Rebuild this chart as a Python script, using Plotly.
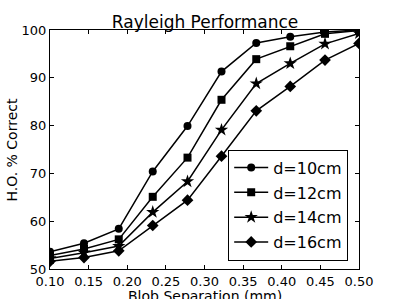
import plotly.graph_objects as go

x_sep = [0.100, 0.144, 0.189, 0.233, 0.278, 0.322, 0.367, 0.411, 0.456, 0.500]
d10 = [53.6, 55.4, 58.4, 70.4, 79.9, 91.3, 97.3, 98.6, 99.6, 100.0]
d12 = [52.8, 54.2, 56.2, 65.1, 73.3, 85.4, 93.9, 96.6, 99.2, 99.9]
d14 = [52.2, 53.4, 54.8, 61.9, 68.3, 79.1, 88.8, 93.0, 97.1, 99.3]
d16 = [51.6, 52.4, 53.8, 59.1, 64.4, 73.6, 83.1, 88.2, 93.7, 97.2]
labels = ["d=10cm", "d=12cm", "d=14cm", "d=16cm"]
series = [d10, d12, d14, d16]
symbols = ["circle", "square", "star", "diamond"]
sizes = [8, 8, 10, 9]
x_ticks = [0.10, 0.15, 0.20, 0.25, 0.30, 0.35, 0.40, 0.45, 0.50]
x_tick_text = ["0.10", "0.15", "0.20", "0.25", "0.30", "0.35", "0.40", "0.45", "0.50"]
y_ticks = [50, 60, 70, 80, 90, 100]

font = "DejaVu Sans"
fig = go.Figure()
for lab, ys, sym, sz in zip(labels, series, symbols, sizes):
    fig.add_trace(go.Scatter(
        x=x_sep, y=ys, name=lab, mode="lines+markers", legendgroup=lab,
        line=dict(color="black", width=1.5),
        marker=dict(symbol=sym, size=sz, color="black"),
    ))

axis_common = dict(
    showline=True, linecolor="black", linewidth=1, mirror="allticks",
    ticks="inside", ticklen=4, tickcolor="black", showgrid=False, zeroline=False,
    automargin=False,
    tickfont=dict(family=font, size=13, color="black"),
)
fig.update_layout(
    width=399, height=299,
    margin=dict(l=50, r=40, t=30, b=30),
    paper_bgcolor="white", plot_bgcolor="white",
    title=dict(text="Rayleigh Performance", x=0.514, xanchor="center", y=0.905, yanchor="bottom",
               automargin=False,
               font=dict(family=font, size=17, color="black")),
    xaxis=dict(range=[0.1, 0.5], tickmode="array", tickvals=x_ticks, ticktext=x_tick_text,
               **axis_common),
    yaxis=dict(range=[50, 100], tickvals=y_ticks, **axis_common),
    legend=dict(x=0.965, xanchor="right", y=0.035, yanchor="bottom",
                bordercolor="black", borderwidth=1, bgcolor="white",
                font=dict(family=font, size=16, color="black"),
                itemwidth=34, tracegroupgap=1),
    showlegend=True,
    annotations=[
        dict(text="Blob Separation (mm)", xref="paper", yref="paper", x=0.5, y=-0.071,
             xanchor="center", yanchor="top", showarrow=False,
             font=dict(family=font, size=14, color="black")),
        dict(text="H.O. % Correct", xref="paper", yref="paper", x=-0.123, y=0.5,
             xanchor="center", yanchor="middle", textangle=-90, showarrow=False,
             font=dict(family=font, size=14, color="black")),
    ],
)
fig.write_html("out.html", config={"displayModeBar": False},
               post_script="document.body.style.margin='0px';")
